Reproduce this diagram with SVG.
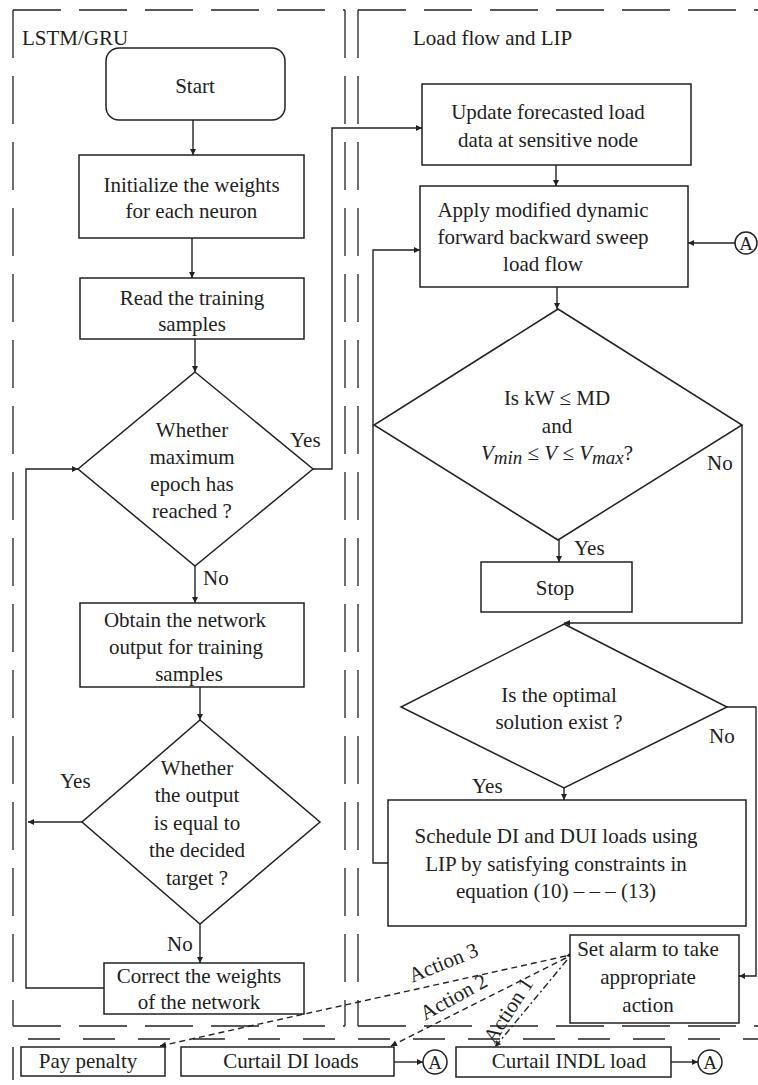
<svg xmlns="http://www.w3.org/2000/svg" width="758" height="1085" viewBox="0 0 758 1085">
<defs>
<marker id="arr" viewBox="0 0 10 10" refX="10" refY="5" markerWidth="7" markerHeight="6" markerUnits="userSpaceOnUse" orient="auto">
<path d="M0,0 L10,5 L0,10 z" fill="#222"/>
</marker>
<style>
text{font-family:"Liberation Serif","Times New Roman",serif;font-size:21px;fill:#222}
.c{text-anchor:middle}
.box{fill:#fff;stroke:#222;stroke-width:1.5}
.ln{fill:none;stroke:#222;stroke-width:1.4}
.pan{fill:none;stroke:#222;stroke-width:1.3;stroke-dasharray:48 18}
.pan2{fill:none;stroke:#222;stroke-width:1.3;stroke-dasharray:32 23}
.dsh{fill:none;stroke:#222;stroke-width:1.4;stroke-dasharray:6 4}
.dd{fill:none;stroke:#222;stroke-width:1.4;stroke-dasharray:7 3 2 3}
.it{font-style:italic}
</style>
</defs>
<rect width="758" height="1085" fill="#fff"/>

<g id="panels">
<line class="pan" x1="13" y1="10" x2="345" y2="10"/>
<line class="pan" x1="13" y1="10" x2="13" y2="1026"/>
<line class="pan" x1="345" y1="10" x2="345" y2="1026"/>
<line class="pan" x1="13" y1="1026" x2="345" y2="1026"/>
<line class="pan" x1="358" y1="10" x2="758" y2="10"/>
<line class="pan" x1="358" y1="10" x2="358" y2="1026"/>
<line class="pan" x1="358" y1="1026" x2="758" y2="1026"/>
<line class="pan2" x1="28" y1="1039" x2="758" y2="1039"/>
<line class="ln" x1="13" y1="1047" x2="13" y2="1080"/>
<text x="22" y="45">LSTM/GRU</text>
<text x="413" y="45">Load flow and LIP</text>
</g>

<g id="connectors">
<line class="ln" x1="193" y1="120" x2="193" y2="155" marker-end="url(#arr)"/>
<line class="ln" x1="192" y1="238" x2="192" y2="278" marker-end="url(#arr)"/>
<line class="ln" x1="195" y1="339" x2="195" y2="372" marker-end="url(#arr)"/>
<polyline class="ln" points="313,469 332,469 332,128 422,128" marker-end="url(#arr)"/>
<line class="ln" x1="195" y1="566" x2="195" y2="603" marker-end="url(#arr)"/>
<line class="ln" x1="200" y1="687" x2="200" y2="720" marker-end="url(#arr)"/>
<line class="ln" x1="82" y1="822" x2="28" y2="822" marker-end="url(#arr)"/>
<line class="ln" x1="200" y1="924" x2="200" y2="963" marker-end="url(#arr)"/>
<polyline class="ln" points="104,988 26,988 26,469 78,469" marker-end="url(#arr)"/>
<line class="ln" x1="556" y1="165" x2="556" y2="186" marker-end="url(#arr)"/>
<line class="ln" x1="735" y1="243" x2="688" y2="243" marker-end="url(#arr)"/>
<polyline class="ln" points="388,863 373,863 373,250 420,250" marker-end="url(#arr)"/>
<line class="ln" x1="557" y1="287" x2="557" y2="309" marker-end="url(#arr)"/>
<line class="ln" x1="559" y1="540" x2="559" y2="562" marker-end="url(#arr)"/>
<polyline class="ln" points="742,425 742,623 564,623" marker-end="url(#arr)"/>
<line class="ln" x1="564" y1="788" x2="564" y2="800" marker-end="url(#arr)"/>
<polyline class="ln" points="727,707 756,707 756,976 739,976" marker-end="url(#arr)"/>
<line class="ln" x1="394" y1="1062" x2="423" y2="1062" marker-end="url(#arr)"/>
<line class="ln" x1="671" y1="1062" x2="698" y2="1062" marker-end="url(#arr)"/>
<line class="dsh" x1="566" y1="956" x2="160" y2="1046" marker-start="url(#arr)" marker-end="url(#arr)"/>
<line class="dsh" x1="566" y1="958" x2="391" y2="1046" marker-end="url(#arr)"/>
<line class="dd" x1="567" y1="960" x2="495" y2="1047" marker-end="url(#arr)"/>
<text x="290" y="447">Yes</text>
<text x="203" y="585">No</text>
<text x="60" y="788">Yes</text>
<text x="167" y="951">No</text>
<text x="574" y="555">Yes</text>
<text x="707" y="470">No</text>
<text x="472" y="793">Yes</text>
<text x="709" y="743">No</text>
<text class="c" transform="translate(446,969) rotate(-22)">Action 3</text>
<text class="c" transform="translate(457,1003) rotate(-29)">Action 2</text>
<text class="c" transform="translate(514,1014) rotate(-57)">Action 1</text>
</g>

<g id="start">
<rect class="box" x="106" y="48" width="179" height="72" rx="13"/>
<text class="c" x="195" y="93">Start</text>
</g>
<g id="init">
<rect class="box" x="79" y="155" width="225" height="83"/>
<text class="c" x="191.5" y="192">Initialize the weights</text>
<text class="c" x="191.5" y="218">for each neuron</text>
</g>
<g id="read">
<rect class="box" x="80" y="278" width="224" height="61"/>
<text class="c" x="192" y="305">Read the training</text>
<text class="c" x="192" y="331">samples</text>
</g>
<g id="epoch">
<polygon class="box" points="195,372 313,469 195,566 78,469"/>
<text class="c" x="192" y="437">Whether</text>
<text class="c" x="192" y="464">maximum</text>
<text class="c" x="192" y="491">epoch has</text>
<text class="c" x="192" y="518">reached ?</text>
</g>
<g id="obtain">
<rect class="box" x="80" y="603" width="224" height="84"/>
<text class="c" x="185" y="627">Obtain the network</text>
<text class="c" x="186" y="654">output for training</text>
<text class="c" x="189" y="681">samples</text>
</g>
<g id="target">
<polygon class="box" points="200,720 320,822 200,924 82,822"/>
<text class="c" x="197" y="775">Whether</text>
<text class="c" x="197" y="802">the output</text>
<text class="c" x="197" y="830">is equal to</text>
<text class="c" x="197" y="857">the decided</text>
<text class="c" x="197" y="885">target ?</text>
</g>
<g id="correct">
<rect class="box" x="104" y="963" width="200" height="51"/>
<text class="c" x="199" y="983">Correct the weights</text>
<text class="c" x="199" y="1009">of the network</text>
</g>
<g id="update">
<rect class="box" x="422" y="84" width="269" height="81"/>
<text class="c" x="548" y="119">Update forecasted load</text>
<text class="c" x="548" y="147">data at sensitive node</text>
</g>
<g id="apply">
<rect class="box" x="420" y="186" width="268" height="101"/>
<text class="c" x="543" y="217">Apply modified dynamic</text>
<text class="c" x="543" y="244">forward backward sweep</text>
<text class="c" x="543" y="271">load flow</text>
</g>
<g id="connA1">
<circle class="box" cx="746" cy="243" r="11"/>
<text class="c" x="746" y="250" style="font-size:19px">A</text>
</g>
<g id="check">
<polygon class="box" points="558,309 742,425 558,540 374,425"/>
<text class="c" x="557" y="405">Is kW ≤  MD</text>
<text class="c" x="557" y="433">and</text>
<text class="c" x="557" y="460"><tspan class="it">V</tspan><tspan class="it" dy="4" style="font-size:19px">min</tspan><tspan dy="-4"> ≤ </tspan><tspan class="it">V</tspan><tspan> ≤ </tspan><tspan class="it">V</tspan><tspan class="it" dy="4" style="font-size:19px">max</tspan><tspan dy="-4">?</tspan></text>
</g>
<g id="stop">
<rect class="box" x="481" y="562" width="151" height="50"/>
<text class="c" x="555" y="595">Stop</text>
</g>
<g id="optimal">
<polygon class="box" points="564,624 727,707 564,788 401,707"/>
<text class="c" x="559" y="702">Is the optimal</text>
<text class="c" x="559" y="729">solution exist ?</text>
</g>
<g id="schedule">
<rect class="box" x="388" y="800" width="358" height="126"/>
<text class="c" x="556" y="843">Schedule DI and DUI loads using</text>
<text class="c" x="556" y="871">LIP by satisfying constraints in</text>
<text class="c" x="556" y="898">equation (10) – – – (13)</text>
</g>
<g id="alarm">
<rect class="box" x="570" y="935" width="169" height="88"/>
<text class="c" x="648" y="956">Set alarm to take</text>
<text class="c" x="648" y="984">appropriate</text>
<text class="c" x="648" y="1012">action</text>
</g>
<g id="penalty">
<rect class="box" x="21" y="1047" width="144" height="29"/>
<text class="c" x="88" y="1068">Pay penalty</text>
</g>
<g id="curtailDI">
<rect class="box" x="181" y="1047" width="213" height="29"/>
<text class="c" x="291" y="1068">Curtail DI loads</text>
</g>
<g id="connA2">
<circle class="box" cx="435" cy="1062" r="12"/>
<text class="c" x="435" y="1069" style="font-size:19px">A</text>
</g>
<g id="curtailINDL">
<rect class="box" x="456" y="1047" width="215" height="30"/>
<text class="c" x="569" y="1068">Curtail INDL load</text>
</g>
<g id="connA3">
<circle class="box" cx="710" cy="1062" r="12"/>
<text class="c" x="710" y="1069" style="font-size:19px">A</text>
</g>
</svg>
